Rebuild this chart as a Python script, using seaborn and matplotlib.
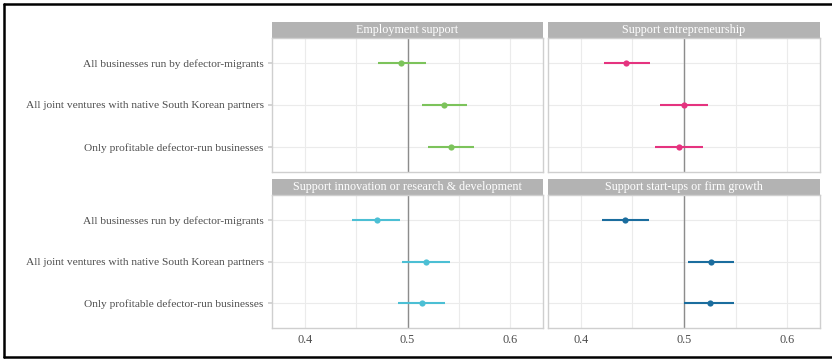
import numpy as np
import pandas as pd
import matplotlib
matplotlib.use("Agg")
import matplotlib.pyplot as plt
import seaborn as sns
from matplotlib.patches import Rectangle
from matplotlib.lines import Line2D

# Data
categories = [
    "All businesses run by defector-migrants",
    "All joint ventures with native South Korean partners",
    "Only profitable defector-run businesses",
]
panels = [
    "Employment support",
    "Support entrepreneurship",
    "Support innovation or research & development",
    "Support start-ups or firm growth",
]
colors = ["#7cc35b", "#e5337f", "#4cbfd4", "#1b6d9e"]

est_employment = [0.494, 0.536, 0.542]
lo_employment = [0.471, 0.514, 0.520]
hi_employment = [0.518, 0.558, 0.565]

est_entrepreneur = [0.444, 0.500, 0.495]
lo_entrepreneur = [0.422, 0.477, 0.472]
hi_entrepreneur = [0.467, 0.523, 0.518]

est_innovation = [0.470, 0.518, 0.514]
lo_innovation = [0.446, 0.495, 0.491]
hi_innovation = [0.493, 0.541, 0.537]

est_startup = [0.443, 0.526, 0.525]
lo_startup = [0.420, 0.504, 0.500]
hi_startup = [0.466, 0.549, 0.549]

rows = []
for panel, est, lo, hi in zip(
    panels,
    [est_employment, est_entrepreneur, est_innovation, est_startup],
    [lo_employment, lo_entrepreneur, lo_innovation, lo_startup],
    [hi_employment, hi_entrepreneur, hi_innovation, hi_startup],
):
    for cat, e, l, h in zip(categories, est, lo, hi):
        rows.append({"panel": panel, "category": cat, "est": e, "lo": l, "hi": h})
df = pd.DataFrame(rows)

sns.set_theme(style="white")
plt.rcParams["font.family"] = ["Liberation Serif", "DejaVu Serif"]

W, H = 832, 361
fig = plt.figure(figsize=(W / 100, H / 100), dpi=100)

# panel boxes in pixels: (left, top, right, bottom)
boxes = [
    (272, 38, 543, 172),
    (548, 38, 820, 172),
    (272, 195, 543, 328),
    (548, 195, 820, 328),
]
strip_h = 16
grid_col = "#ebebeb"
frame_col = "#cfcfcf"
text_col = "#4d4d4d"

for i, (panel, color, (l, t, r, b)) in enumerate(zip(panels, colors, boxes)):
    ax = fig.add_axes([l / W, 1 - b / H, (r - l) / W, (b - t) / H])
    sub = df[df["panel"] == panel].reset_index(drop=True)
    ypos = np.arange(len(sub))

    ax.set_xlim(0.368, 0.632)
    ax.set_ylim(len(categories) - 0.4, -0.6)
    ax.set_xticks([0.4, 0.5, 0.6])
    ax.set_xticks([0.45, 0.55], minor=True)
    ax.set_yticks(ypos)
    ax.grid(True, which="both", color=grid_col, linewidth=0.8)
    ax.set_axisbelow(True)
    ax.axvline(0.5, color="#8c8c8c", linewidth=1.0, zorder=2)

    ax.hlines(ypos, sub["lo"], sub["hi"], color=color, linewidth=1.5, zorder=3)
    sns.scatterplot(data=sub.assign(y=ypos), x="est", y="y", color=color,
                    s=20, linewidth=0, ax=ax, zorder=4)

    ax.set_xlabel("")
    ax.set_ylabel("")
    for sp in ax.spines.values():
        sp.set_color(frame_col)
        sp.set_linewidth(1.0)

    if i % 2 == 0:
        ax.set_yticklabels(categories, fontsize=8.2, color=text_col)
        ax.tick_params(axis="y", length=3, color=frame_col, pad=3, left=True)
    else:
        ax.set_yticklabels([])
        ax.tick_params(axis="y", length=0)
    if i >= 2:
        ax.set_xticklabels(["0.4", "0.5", "0.6"], fontsize=8.8, color=text_col)
        ax.tick_params(axis="x", length=0, pad=4)
    else:
        ax.set_xticklabels([])
        ax.tick_params(axis="x", length=0)
    ax.tick_params(axis="x", which="minor", length=0)

    # facet strip
    sh = strip_h / (b - t)
    ax.add_patch(Rectangle((0, 1), 1, sh, transform=ax.transAxes,
                           facecolor="#b3b3b3", edgecolor="none", clip_on=False))
    ax.text(0.5, 1 + sh / 2, panel, transform=ax.transAxes, ha="center",
            va="center", color="white", fontsize=8.7)

# outer frame: left, top and bottom edges
for xs, ys in [([4 / W, 4 / W], [4 / H, 1 - 4 / H]),
               ([4 / W, 1], [1 - 4 / H, 1 - 4 / H]),
               ([4 / W, 1], [4 / H, 4 / H])]:
    fig.add_artist(Line2D(xs, ys, color="black", linewidth=1.8,
                          transform=fig.transFigure))

fig.savefig("out.png", dpi=100, facecolor="white")
